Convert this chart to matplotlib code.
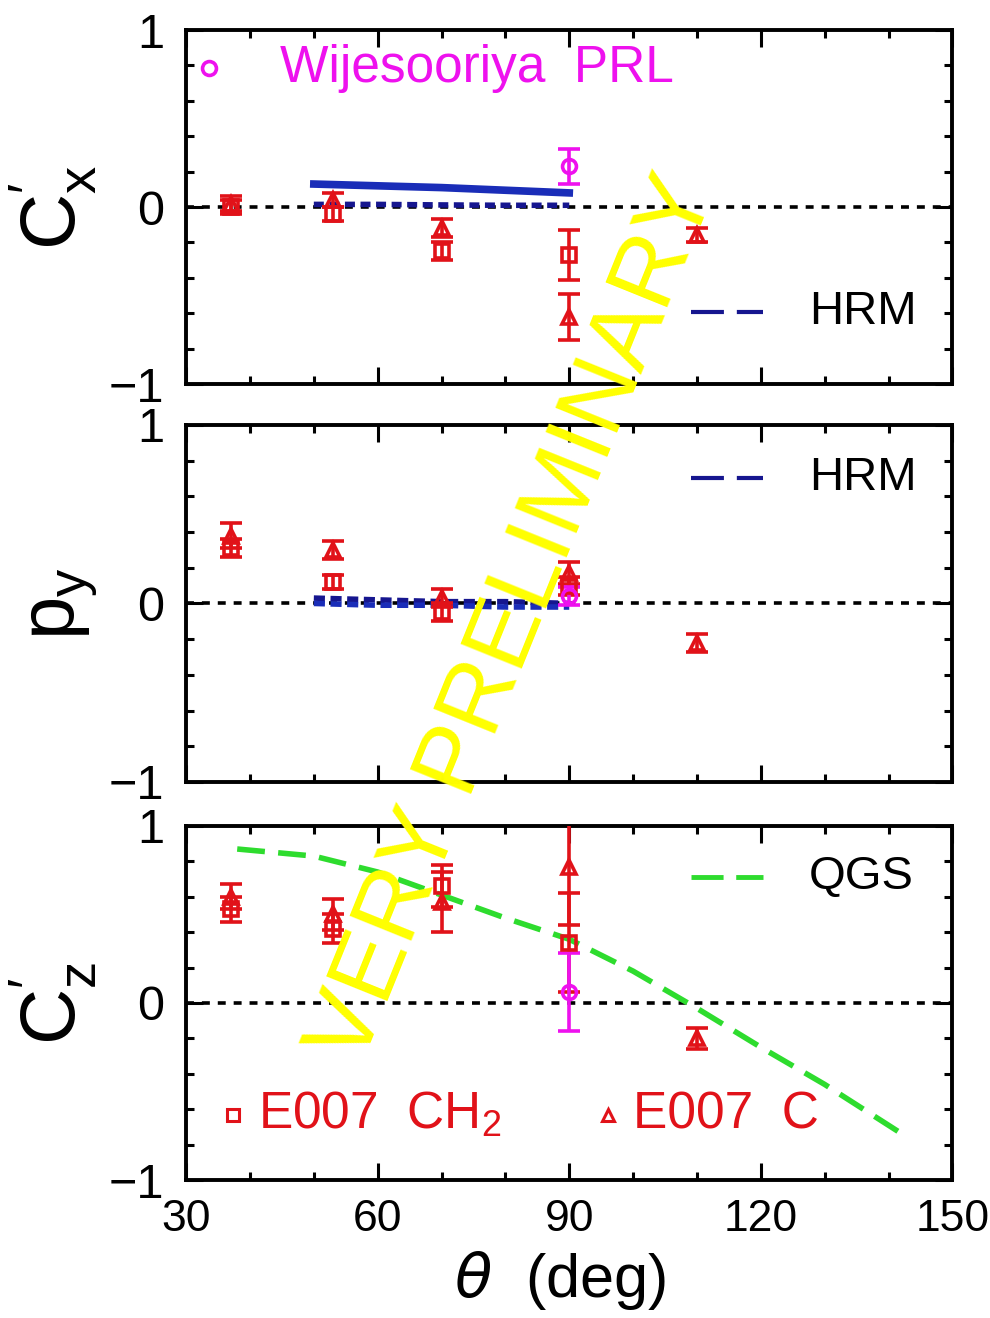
import matplotlib
matplotlib.use("Agg")
import matplotlib.pyplot as plt
from matplotlib.ticker import MultipleLocator

plt.rcParams['font.family'] = ['Liberation Sans', 'DejaVu Sans']
plt.rcParams['mathtext.default'] = 'regular'

RED = '#e11219'
MAG = '#ee11ee'
BLUE = '#1a2db8'
NAVY = '#16168f'
GREEN = '#2edc2e'

# ---- data ----
th_ch2 = [37, 53, 70, 90]
th_c = [37, 53, 70, 90, 110]
th_wij = [90]

# C_x'
cx_ch2 = [0.0, -0.04, -0.25, -0.27]
cx_ch2_err = [0.04, 0.04, 0.05, 0.14]
cx_c = [0.02, 0.04, -0.12, -0.62, -0.16]
cx_c_err = [0.04, 0.04, 0.05, 0.13, 0.04]
cx_wij = [0.23]
cx_wij_err = [0.10]

# P_y
py_ch2 = [0.31, 0.12, -0.05, 0.10]
py_ch2_err = [0.05, 0.04, 0.05, 0.05]
py_c = [0.38, 0.30, 0.03, 0.17, -0.22]
py_c_err = [0.07, 0.05, 0.05, 0.06, 0.05]
py_wij = [0.04]
py_wij_err = [0.05]

# C_z'
cz_ch2 = [0.53, 0.42, 0.66, 0.34]
cz_ch2_err = [0.07, 0.08, 0.12, 0.28]
cz_c = [0.60, 0.50, 0.57, 0.77, -0.20]
cz_c_err = [0.07, 0.09, 0.17, 0.33, 0.06]
cz_wij = [0.06]
cz_wij_err = [0.22]

# HRM curves
hrm_th = [50, 60, 70, 80, 90]
hrm_cx = [0.13, 0.12, 0.11, 0.095, 0.08]
hrm_cx2 = [0.015, 0.015, 0.012, 0.01, 0.01]
hrm_py = [0.03, 0.02, 0.01, 0.01, 0.0]
hrm_py2 = [0.0, -0.01, -0.01, -0.02, -0.02]

# QGS curve
qgs_th = [38, 50, 60, 70, 80, 90, 100, 110, 120, 130, 143]
qgs_cz = [0.87, 0.83, 0.74, 0.61, 0.48, 0.36, 0.18, -0.03, -0.25, -0.46, -0.76]

fig = plt.figure(figsize=(9.9, 13.18), dpi=100)
ax1 = fig.add_axes([0.188, 0.7086, 0.774, 0.2686])
ax2 = fig.add_axes([0.188, 0.4067, 0.774, 0.2709])
ax3 = fig.add_axes([0.188, 0.1047, 0.774, 0.2686])


def setup(ax, label, lab_x):
    ax.set_xlim(30, 150)
    ax.set_ylim(-1, 1)
    ax.set_xticks([30, 60, 90, 120, 150])
    ax.xaxis.set_minor_locator(MultipleLocator(10))
    ax.set_yticks([-1, 0, 1])
    ax.yaxis.set_minor_locator(MultipleLocator(0.2))
    ax.tick_params(which='both', direction='in', top=True, right=True, width=2.2)
    ax.tick_params(which='major', length=12)
    ax.tick_params(which='minor', length=6)
    ax.tick_params(axis='y', pad=16, labelsize=35)
    ax.tick_params(axis='x', pad=14, labelsize=32)
    for s in ax.spines.values():
        s.set_linewidth(2.8)
    ax.axhline(0, color='k', lw=2.6, dashes=(2.2, 2.2), zorder=1)
    ax.text(lab_x, 0.5, label, transform=ax.transAxes, rotation=90,
            ha='center', va='center', fontsize=56)


def pts(ax, th, y, e, m, c, ms=10):
    ax.errorbar(th, y, yerr=e, fmt=m, color=c, mfc='none', mec=c, ms=ms,
                mew=2.6, elinewidth=2.6, capsize=8, capthick=2.6, zorder=3)


setup(ax1, r"C$_x^{\prime}$", -0.175)
setup(ax2, r"p$_y$", -0.16)
setup(ax3, r"C$_z^{\prime}$", -0.175)
ax1.tick_params(labelbottom=False)
ax2.tick_params(labelbottom=False)

# top panel
ax1.plot(hrm_th, hrm_cx, color=BLUE, lw=5.5, zorder=2)
ax1.plot(hrm_th, hrm_cx2, color=NAVY, lw=4, dashes=(1.8, 1.0), zorder=2)
pts(ax1, th_ch2, cx_ch2, cx_ch2_err, 's', RED)
pts(ax1, th_c, cx_c, cx_c_err, '^', RED)
pts(ax1, th_wij, cx_wij, cx_wij_err, 'o', MAG)
ax1.plot([33.6], [0.785], 'o', mfc='none', mec=MAG, ms=10, mew=2.6)
ax1.text(44.7, 0.785, "Wijesooriya  PRL", color=MAG, fontsize=37,
         va='center', ha='left')
ax1.plot([109, 120.4], [-0.593, -0.593], color=NAVY, lw=3, dashes=(7.9, 3.1))
ax1.text(127.5, -0.593, "HRM", fontsize=34, va='center')

# middle panel
ax2.plot(hrm_th, hrm_py, color=NAVY, lw=4, dashes=(2.0, 1.0), zorder=2)
ax2.plot(hrm_th, hrm_py2, color=BLUE, lw=4, dashes=(2.0, 1.0), zorder=2)
pts(ax2, th_ch2, py_ch2, py_ch2_err, 's', RED)
pts(ax2, th_c, py_c, py_c_err, '^', RED)
pts(ax2, th_wij, py_wij, py_wij_err, 'o', MAG)
ax2.plot([109, 120.4], [0.70, 0.70], color=NAVY, lw=3, dashes=(7.9, 3.1))
ax2.text(127.5, 0.70, "HRM", fontsize=34, va='center')

# bottom panel
ax3.plot(qgs_th, qgs_cz, color=GREEN, lw=4, dashes=(5.0, 2.4), zorder=2)
pts(ax3, th_ch2, cz_ch2, cz_ch2_err, 's', RED)
pts(ax3, th_c, cz_c, cz_c_err, '^', RED)
pts(ax3, th_wij, cz_wij, cz_wij_err, 'o', MAG)
ax3.plot([109, 120.4], [0.71, 0.71], color=GREEN, lw=3.5, dashes=(6.6, 2.6))
ax3.text(127.5, 0.71, "QGS", fontsize=34, va='center')
ax3.plot([37.4], [-0.63], 's', mfc='none', mec=RED, ms=8, mew=2.2)
ax3.text(41.3, -0.63, r"E007  CH$_2$", color=RED, fontsize=37, va='center')
ax3.plot([96.1], [-0.63], '^', mfc='none', mec=RED, ms=8, mew=2.2)
ax3.text(100, -0.63, "E007  C", color=RED, fontsize=37, va='center')
ax3.text(0.488, -0.285, r"$\it{\theta}$  (deg)", transform=ax3.transAxes,
         fontsize=44, ha='center', va='center')

# watermark
fig.text(0.52, 0.5296, "VERY PRELIMINARY", rotation=68, color='#ffff00',
         fontsize=70, ha='center', va='center', zorder=10)

fig.savefig("out.png", dpi=100)
